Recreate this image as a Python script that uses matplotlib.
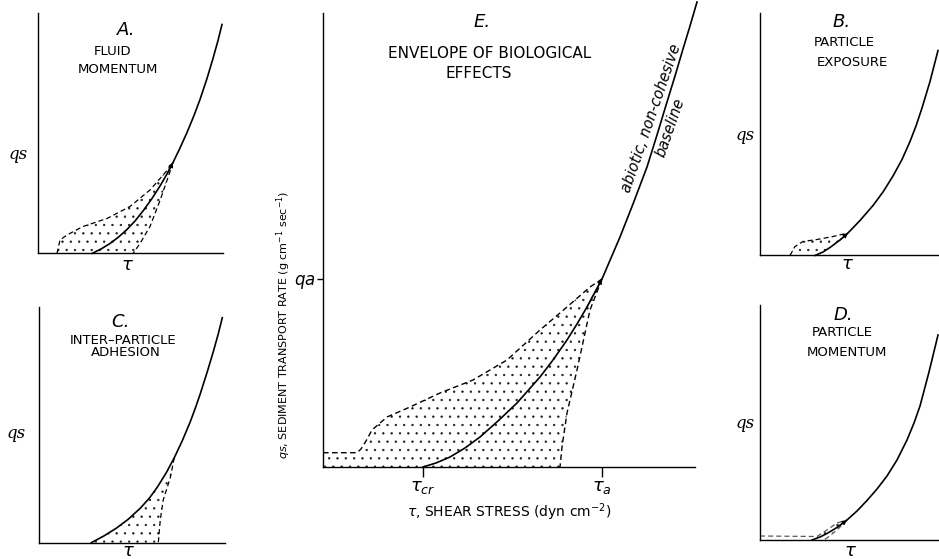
import numpy as np
import matplotlib.pyplot as plt

W, H = 939, 559  # figure size in pixels

# all panels use schematic units: tau (shear stress) and qs (transport rate)
# Panel A: fluid momentum
a_tau = [5.4, 6.3, 7.2, 8.0, 8.9, 9.7, 10.5, 11.4, 12.2, 12.9, 13.5,
         14.2, 14.9, 15.6, 16.2, 16.9, 17.5, 18.0, 18.4]
a_qs = [0.0, 0.45, 1.0, 1.6, 2.4, 3.25, 4.25, 5.5, 6.75, 7.95, 9.1,
        10.55, 12.1, 13.8, 15.4, 17.5, 19.5, 21.3, 22.9]
a_up_tau = [1.9, 2.2, 2.9, 4.5, 6.9, 9.2, 11.2, 12.9, 13.5]
a_up_qs = [0.0, 1.35, 1.85, 2.7, 3.5, 4.7, 6.35, 8.3, 9.1]
a_lo_tau = [13.5, 13.0, 12.2, 11.2, 10.2, 9.5]
a_lo_qs = [9.1, 7.6, 5.3, 2.7, 1.0, 0.0]

# Panel B: particle exposure
b_tau = [5.5, 6.3, 7.0, 8.0, 8.8, 10.0, 11.3, 12.3, 13.3, 14.2, 15.0,
         15.6, 16.2, 17.0, 17.8]
b_qs = [0.0, 0.35, 0.8, 1.55, 2.25, 3.5, 5.0, 6.35, 7.95, 9.6, 11.4,
        12.95, 14.75, 17.4, 20.5]
b_up_tau = [3.0, 3.5, 4.3, 5.7, 7.3, 8.8]
b_up_qs = [0.0, 0.9, 1.4, 1.6, 1.9, 2.25]

# Panel C: inter-particle adhesion
c_tau = [5.2, 6.5, 7.7, 8.9, 10.1, 11.0, 11.8, 12.7, 13.5, 14.3, 15.1,
         15.6, 16.1, 16.8, 17.4, 17.9, 18.3]
c_qs = [0.0, 0.7, 1.45, 2.35, 3.45, 4.45, 5.55, 7.0, 8.5, 10.2, 12.1,
        13.45, 14.9, 17.1, 19.1, 20.9, 22.5]
c_lo_tau = [13.5, 13.1, 12.4, 12.1, 11.9]
c_lo_qs = [8.5, 6.5, 4.3, 2.3, 0.0]

# Panel D: particle momentum
d_tau = [5.2, 6.0, 6.7, 7.7, 8.7, 9.7, 10.7, 11.7, 12.7, 13.7, 14.7,
         15.4, 16.0, 16.9, 17.8]
d_qs = [0.0, 0.3, 0.65, 1.25, 2.0, 2.9, 3.95, 5.1, 6.4, 8.0, 10.0,
        11.7, 13.4, 16.8, 20.5]
d_up_tau = [0.0, 5.7, 6.7, 7.7, 8.7]
d_up_qs = [0.4, 0.35, 1.0, 1.7, 2.0]
d_lo_tau = [8.7, 7.7, 6.7, 6.3]
d_lo_qs = [2.0, 1.0, 0.2, 0.0]

# Panel E: envelope of biological effects
e_tau = [10.0, 11.3, 12.7, 14.2, 15.7, 17.5, 19.4, 21.7, 23.0, 24.4, 25.4,
         26.4, 27.9, 29.7, 31.0, 32.4, 33.4, 34.4, 35.2, 36.0, 36.7, 37.4]
e_qs = [0.0, 0.4, 1.0, 1.9, 3.0, 4.6, 6.4, 9.0, 10.7, 12.7, 14.3,
        16.0, 18.8, 23.0, 26.3, 30.0, 33.2, 36.5, 39.1, 41.8, 44.1, 46.5]
e_up_tau = [0.0, 3.4, 3.8, 4.3, 4.9, 6.4, 8.7, 11.7, 15.0, 18.4, 21.7, 24.4, 26.7, 27.9]
e_up_qs = [1.43, 1.43, 1.8, 2.6, 3.7, 5.0, 6.0, 7.4, 8.7, 10.7, 13.7, 16.0, 18.0, 18.8]
e_lo_tau = [27.9, 26.7, 25.4, 24.4, 23.9, 23.7]
e_lo_qs = [18.8, 15.7, 9.7, 5.4, 2.0, 0.0]
tau_cr, tau_a, q_a = 10.0, 27.9, 18.8

plt.rcParams['hatch.linewidth'] = 0.45
fig = plt.figure(figsize=(W / 100, H / 100), dpi=100)

dash = (0, (4, 2.5))


def make_axes(x0, yb, x1, yt):
    # box given in pixels; 1 data unit = 10 px
    ax = fig.add_axes([x0 / W, 1 - yb / H, (x1 - x0) / W, (yb - yt) / H])
    ax.set_xlim(0, (x1 - x0) / 10)
    ax.set_ylim(0, (yb - yt) / 10)
    for s in ['top', 'right']:
        ax.spines[s].set_visible(False)
    for s in ['left', 'bottom']:
        ax.spines[s].set_linewidth(1.0)
    ax.set_xticks([])
    ax.set_yticks([])
    ax.patch.set_alpha(0)
    return ax


def ftext(x, y, s, **kw):
    kw.setdefault('ha', 'center')
    kw.setdefault('va', 'center')
    fig.text(x / W, 1 - y / H, s, **kw)


def curve(ax, t, q, k=None):
    ax.plot(t, q, color='k', lw=1.2, clip_on=False, solid_joinstyle='round')
    if k is not None:
        ax.annotate('', xy=(t[k], q[k]), xytext=(t[k - 1], q[k - 1]),
                    arrowprops=dict(arrowstyle='-|>', color='k', lw=0.8,
                                    mutation_scale=7, shrinkA=0, shrinkB=0))


def dots(ax, x, y):
    ax.fill(x, y, facecolor='none', edgecolor='0.1', lw=0, hatch='..')


# ---- A
ax = make_axes(38, 253.5, 223, 13)
dots(ax, np.r_[a_up_tau, a_lo_tau[1:]], np.r_[a_up_qs, a_lo_qs[1:]])
ax.plot(a_up_tau, a_up_qs, 'k', ls=dash, lw=0.9)
ax.plot(a_lo_tau, a_lo_qs, 'k', ls=dash, lw=0.9)
curve(ax, a_tau, a_qs, 10)

# ---- C
ax = make_axes(39.3, 542.7, 225, 307)
dots(ax, np.r_[c_tau[:9], c_lo_tau[1:]], np.r_[c_qs[:9], c_lo_qs[1:]])
ax.plot(c_lo_tau, c_lo_qs, 'k', ls=dash, lw=0.9)
curve(ax, c_tau, c_qs)

# ---- B
ax = make_axes(760, 255.5, 939, 12.7)
dots(ax, np.r_[b_up_tau, b_tau[:5][::-1]], np.r_[b_up_qs, b_qs[:5][::-1]])
ax.plot(b_up_tau, b_up_qs, 'k', ls=dash, lw=0.9)
curve(ax, b_tau, b_qs, 4)

# ---- D
ax = make_axes(760, 540, 939, 305)
dots(ax, np.r_[0, d_up_tau, d_lo_tau[1:]], np.r_[0, d_up_qs, d_lo_qs[1:]])
ax.plot(d_up_tau, d_up_qs, color='0.35', ls=dash, lw=0.9)
ax.plot(d_lo_tau, d_lo_qs, color='0.35', ls=dash, lw=0.9)
curve(ax, d_tau, d_qs, 4)

# ---- E
ax = make_axes(323, 467, 695, 13)
dots(ax, np.r_[0, e_up_tau, e_lo_tau[1:]], np.r_[0, e_up_qs, e_lo_qs[1:]])
ax.plot(e_up_tau, e_up_qs, 'k', ls=dash, lw=1.0)
ax.plot(e_lo_tau, e_lo_qs, 'k', ls=dash, lw=1.0)
curve(ax, e_tau, e_qs, 12)
ax.set_xticks([tau_cr, tau_a])
ax.set_xticklabels([r'$\tau_{cr}$', r'$\tau_a$'], fontsize=13)
ax.set_yticks([q_a])
ax.set_yticklabels([r'$qa$'], fontsize=12)
ax.tick_params(axis='x', direction='out', length=7, width=1.0, pad=1)
ax.tick_params(axis='y', direction='out', length=4, width=1.0, pad=1)
ax.set_xlabel(r'$\tau$, SHEAR STRESS (dyn cm$^{-2}$)', fontsize=10, labelpad=4)
ax.set_ylabel(r'$qs$, SEDIMENT TRANSPORT RATE (g cm$^{-1}$ sec$^{-1}$)',
              fontsize=8)
ax.yaxis.set_label_coords(-0.08, 0.313)
ax.text(32.8, 34.9, 'abiotic, non-cohesive', rotation=71, fontsize=10.5,
        style='italic', ha='center', va='center', rotation_mode='anchor')
ax.text(34.7, 33.9, 'baseline', rotation=71, fontsize=10.5,
        style='italic', ha='center', va='center', rotation_mode='anchor')

# ---- panel titles and labels
big = dict(fontsize=13, style='italic')
small = dict(fontsize=9.5)
ftext(126, 30, 'A.', **big)
ftext(113, 52, 'FLUID', **small)
ftext(118, 70, 'MOMENTUM', **small)
ftext(120, 322, 'C.', **big)
ftext(123, 340, 'INTER\u2013PARTICLE', **small)
ftext(126, 352, 'ADHESION', **small)
ftext(842, 22, 'B.', **big)
ftext(844, 42, 'PARTICLE', **small)
ftext(852, 63, 'EXPOSURE', **small)
ftext(843, 315, 'D.', **big)
ftext(842, 332, 'PARTICLE', **small)
ftext(847, 352, 'MOMENTUM', **small)
ftext(482, 22, 'E.', **big)
ftext(490, 53, 'ENVELOPE OF BIOLOGICAL', fontsize=11)
ftext(479, 73, 'EFFECTS', fontsize=11)

qs_kw = dict(fontsize=12, style='italic', family='DejaVu Serif')
ftext(18, 155, 'qs', **qs_kw)
ftext(16, 433, 'qs', **qs_kw)
ftext(745, 136, 'qs', **qs_kw)
ftext(745, 423, 'qs', **qs_kw)
tau_kw = dict(fontsize=13)
ftext(127, 265, r'$\tau$', **tau_kw)
ftext(128, 551, r'$\tau$', **tau_kw)
ftext(847, 264, r'$\tau$', **tau_kw)
ftext(850, 551, r'$\tau$', **tau_kw)

fig.savefig('out.png', dpi=100)
